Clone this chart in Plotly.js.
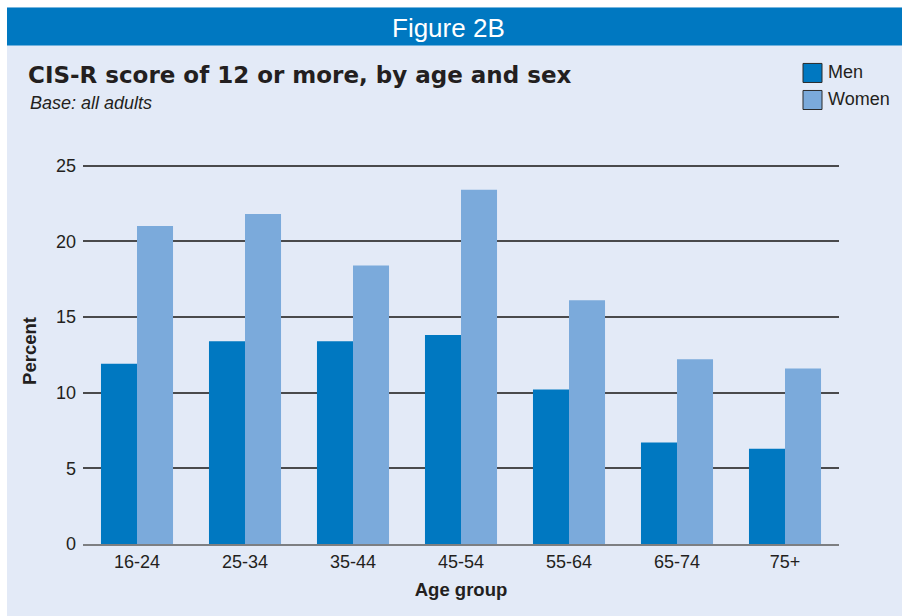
<!DOCTYPE html>
<html>
<head>
<meta charset="utf-8">
<script src="https://cdn.plot.ly/plotly-3.0.1.min.js"></script>
<style>
  html, body { margin: 0; padding: 0; background: #ffffff; }
  #chart { width: 902px; height: 616px; }
</style>
</head>
<body>
<div id="chart"></div>
<script>
const ageGroups = ["16-24", "25-34", "35-44", "45-54", "55-64", "65-74", "75+"];
const men = [11.9, 13.4, 13.4, 13.8, 10.2, 6.7, 6.3];
const women = [21.0, 21.8, 18.4, 23.4, 16.1, 12.2, 11.6];
const seriesNames = ["Men", "Women"];
const yTicks = [0, 5, 10, 15, 20, 25];

const W = 902, H = 616;
const M = { l: 83, r: 63, t: 158.44, b: 72 };
const PW = W - M.l - M.r, PH = H - M.t - M.b;
const px = x => (x - M.l) / PW;
const py = y => (H - M.b - y) / PH;

const FONT = '"Liberation Sans", Arial, Helvetica, sans-serif';
const TITLE_FONT = '"DejaVu Sans", "Liberation Sans", Arial, sans-serif';
const C_MEN = '#0078c1';
const C_WOMEN = '#7baadb';
const BG = '#e3eaf7';
const INK = '#231f20';

const traces = [
  { type: 'bar', name: seriesNames[0], x: ageGroups, y: men,
    marker: { color: C_MEN }, hoverinfo: 'x+y+name' },
  { type: 'bar', name: seriesNames[1], x: ageGroups, y: women,
    marker: { color: C_WOMEN }, hoverinfo: 'x+y+name' }
];

const shapes = [
  { type: 'rect', xref: 'paper', yref: 'paper', x0: px(7), x1: px(W), y0: py(8), y1: py(H),
    fillcolor: BG, line: { width: 0 }, layer: 'below' },
  { type: 'rect', xref: 'paper', yref: 'paper', x0: px(7), x1: px(W), y0: py(8), y1: py(46),
    fillcolor: C_MEN, line: { width: 0 }, layer: 'below' },
  { type: 'rect', xref: 'paper', yref: 'paper', x0: px(803), x1: px(822), y0: py(64), y1: py(83),
    fillcolor: C_MEN, line: { color: '#2b2b2b', width: 1 } },
  { type: 'rect', xref: 'paper', yref: 'paper', x0: px(803), x1: px(822), y0: py(91), y1: py(110),
    fillcolor: C_WOMEN, line: { color: '#2b2b2b', width: 1 } }
];

const annotations = [
  { text: 'Figure 2B', xref: 'paper', yref: 'paper', x: px(448), y: py(29),
    xanchor: 'center', yanchor: 'middle', showarrow: false,
    font: { family: FONT, size: 26, color: '#ffffff' } },
  { text: 'Base: all adults', xref: 'paper', yref: 'paper', x: px(28), y: py(104),
    xanchor: 'left', yanchor: 'middle', showarrow: false,
    font: { family: FONT, size: 18, color: INK, style: 'italic' } },
  { text: seriesNames[0], xref: 'paper', yref: 'paper', x: px(826), y: py(73),
    xanchor: 'left', yanchor: 'middle', showarrow: false,
    font: { family: FONT, size: 18, color: INK } },
  { text: seriesNames[1], xref: 'paper', yref: 'paper', x: px(826), y: py(100),
    xanchor: 'left', yanchor: 'middle', showarrow: false,
    font: { family: FONT, size: 18, color: INK } }
];

const layout = {
  width: W, height: H,
  margin: M,
  paper_bgcolor: '#ffffff',
  plot_bgcolor: 'rgba(0,0,0,0)',
  showlegend: false,
  barmode: 'group',
  bargap: 0.333,
  bargroupgap: 0,
  font: { family: FONT, color: INK },
  title: {
    text: '<b>CIS-R score of 12 or more, by age and sex</b>',
    xref: 'container', yref: 'container',
    x: 28 / W, y: 1 - 75 / H, xanchor: 'left', yanchor: 'middle',
    font: { family: TITLE_FONT, size: 23, color: INK }
  },
  xaxis: {
    type: 'category',
    showgrid: false,
    showline: true, linecolor: '#7d7f82', linewidth: 2,
    ticks: '', tickfont: { family: FONT, size: 18, color: INK },
    title: { text: '<b>Age group</b>', standoff: 12,
             font: { family: FONT, size: 18.5, color: INK } },
    fixedrange: true
  },
  yaxis: {
    range: [0, 25.5],
    tickvals: yTicks,
    ticktext: yTicks.map(String),
    showgrid: true, gridcolor: '#4a4a4c', gridwidth: 1.5,
    zeroline: false,
    showline: false,
    ticks: '', ticklabelstandoff: 6,
    tickfont: { family: FONT, size: 18, color: INK },
    title: { text: '<b>Percent</b>', standoff: 14,
             font: { family: FONT, size: 18.5, color: INK } },
    fixedrange: true
  },
  shapes: shapes,
  annotations: annotations
};

Plotly.newPlot('chart', traces, layout, { displayModeBar: false });
</script>
</body>
</html>
